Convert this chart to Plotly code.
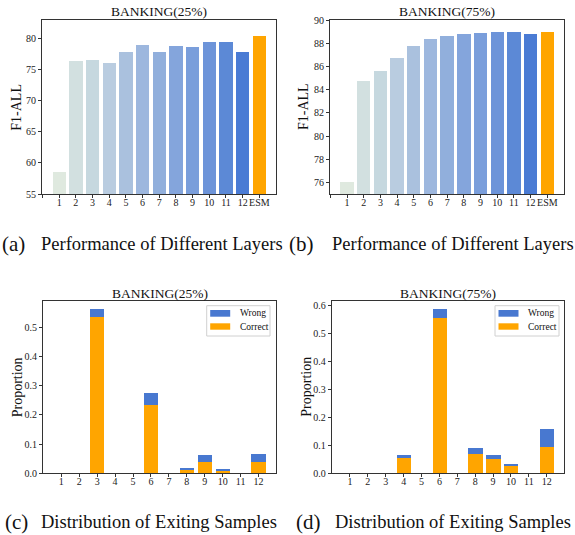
import plotly.graph_objects as go

# ---------------- data ----------------
layer_labels = ['1', '2', '3', '4', '5', '6', '7', '8', '9', '10', '11', '12', 'ESM']
f1_25 = [58.5, 76.4, 76.5, 76.1, 77.8, 79.0, 77.8, 78.8, 78.7, 79.4, 79.4, 77.8, 80.4]
f1_75 = [76.05, 84.75, 85.6, 86.7, 87.75, 88.35, 88.6, 88.78, 88.87, 88.95, 88.95, 88.78, 88.95]

exit_layers = ['1', '2', '3', '4', '5', '6', '7', '8', '9', '10', '11', '12']
correct_25 = [0, 0, 0.535, 0, 0, 0.234, 0, 0.014, 0.041, 0.010, 0, 0.041]
wrong_25 = [0, 0, 0.028, 0, 0, 0.041, 0, 0.003, 0.022, 0.004, 0, 0.025]
correct_75 = [0, 0, 0, 0.055, 0, 0.555, 0, 0.070, 0.051, 0.026, 0, 0.094]
wrong_75 = [0, 0, 0, 0.0105, 0, 0.032, 0, 0.0205, 0.0145, 0.0073, 0, 0.064]

legend_names = ['Wrong', 'Correct']

# ---------------- styles ----------------
bar_colors = ['#dfe9df', '#d2e0e0', '#c6d8df', '#b9cce0', '#aac1de', '#9db7de',
              '#91afdc', '#84a5dc', '#7a9edb', '#6d94d9', '#5c89d6', '#4a7bd4', '#ffa500']
BLUE = '#4878d0'
ORANGE = '#ffa500'
FONT = 'Liberation Serif, Times New Roman, serif'
W, H = 575, 535


def px_x(p):
    return p / W


def px_y(p):
    return 1 - p / H


x_top = list(range(1, len(layer_labels) + 1))
x_bot = list(range(1, len(exit_layers) + 1))

fig = go.Figure()

fig.add_trace(go.Bar(x=x_top, y=f1_25, marker=dict(color=bar_colors, line=dict(width=0)),
                     width=0.8, xaxis='x', yaxis='y', showlegend=False))
fig.add_trace(go.Bar(x=x_top, y=f1_75, marker=dict(color=bar_colors, line=dict(width=0)),
                     width=0.8, xaxis='x2', yaxis='y2', showlegend=False))

fig.add_trace(go.Bar(x=x_bot, y=correct_25, name='Correct', marker=dict(color=ORANGE, line=dict(width=0)),
                     width=0.8, xaxis='x3', yaxis='y3', showlegend=False))
fig.add_trace(go.Bar(x=x_bot, y=wrong_25, name='Wrong', marker=dict(color=BLUE, line=dict(width=0)),
                     width=0.8, xaxis='x3', yaxis='y3', showlegend=False))
fig.add_trace(go.Bar(x=x_bot, y=correct_75, name='Correct', marker=dict(color=ORANGE, line=dict(width=0)),
                     width=0.8, xaxis='x4', yaxis='y4', showlegend=False))
fig.add_trace(go.Bar(x=x_bot, y=wrong_75, name='Wrong', marker=dict(color=BLUE, line=dict(width=0)),
                     width=0.8, xaxis='x4', yaxis='y4', showlegend=False))

axis_common = dict(showline=True, mirror=True, linecolor='#333', linewidth=1,
                   ticks='outside', ticklen=3, tickwidth=1, tickcolor='#333',
                   showgrid=False, zeroline=False, automargin=False, tickangle=0,
                   tickfont=dict(family=FONT, size=10, color='#222'))
xaxis_extra = dict(ticklabelstandoff=-4)

top_ticks = [0] + x_top
top_text = [''] + layer_labels

fig.update_layout(
    template='none',
    width=W, height=H, margin=dict(l=0, r=0, t=0, b=0, autoexpand=False),
    paper_bgcolor='white', plot_bgcolor='white',
    barmode='stack', bargap=0, showlegend=False,
    font=dict(family=FONT, color='#222'),
    xaxis=dict(domain=[px_x(42), px_x(276)], range=[-0.03, 14.0], anchor='y',
               tickmode='array', tickvals=top_ticks, ticktext=top_text, **axis_common, **xaxis_extra),
    yaxis=dict(domain=[px_y(194), px_y(20)], range=[55, 83], anchor='x',
               tickmode='array', tickvals=[55, 60, 65, 70, 75, 80], **axis_common),
    xaxis2=dict(domain=[px_x(330), px_x(564)], range=[-0.02, 14.0], anchor='y2',
                tickmode='array', tickvals=top_ticks, ticktext=top_text, **axis_common, **xaxis_extra),
    yaxis2=dict(domain=[px_y(194), px_y(20)], range=[75, 90], anchor='x2',
                tickmode='array', tickvals=[76, 78, 80, 82, 84, 86, 88, 90], **axis_common),
    xaxis3=dict(domain=[px_x(43), px_x(276)], range=[-0.02, 12.97], anchor='y3',
                tickmode='array', tickvals=x_bot, ticktext=exit_layers, **axis_common, **xaxis_extra),
    yaxis3=dict(domain=[px_y(473.3), px_y(300.7)], range=[0, 0.591], anchor='x3',
                tickmode='array', tickvals=[0, 0.1, 0.2, 0.3, 0.4, 0.5], tickformat='.1f', **axis_common),
    xaxis4=dict(domain=[px_x(331.7), px_x(564.3)], range=[-0.02, 12.98], anchor='y4',
                tickmode='array', tickvals=x_bot, ticktext=exit_layers, **axis_common, **xaxis_extra),
    yaxis4=dict(domain=[px_y(473.3), px_y(300.7)], range=[0, 0.616], anchor='x4',
                tickmode='array', tickvals=[0, 0.1, 0.2, 0.3, 0.4, 0.5, 0.6], tickformat='.1f', **axis_common),
)

annotations = []
shapes = []
# subplot titles
for xc, yc, txt in [(159, 11.5, 'BANKING(25%)'), (447, 11.5, 'BANKING(75%)'),
                    (159.5, 293.3, 'BANKING(25%)'), (448, 293.3, 'BANKING(75%)')]:
    annotations.append(dict(x=px_x(xc), y=px_y(yc), xref='paper', yref='paper',
                            text=txt, showarrow=False, xanchor='center', yanchor='middle',
                            font=dict(family=FONT, size=13.5, color='#111')))
# y-axis titles
for xc, yc, txt in [(16.7, 107, 'F1-ALL'), (304, 107, 'F1-ALL'),
                    (17.3, 387, 'Proportion'), (305.7, 387, 'Proportion')]:
    annotations.append(dict(x=px_x(xc), y=px_y(yc), xref='paper', yref='paper',
                            text=txt, showarrow=False, textangle=-90,
                            xanchor='center', yanchor='middle',
                            font=dict(family=FONT, size=14, color='#111')))
# captions
for xl, xt, yc, lab, txt in [(13, 39, 243.5, '(a)', 'Performance of Different Layers'),
                             (301.5, 330, 243.5, '(b)', 'Performance of Different Layers'),
                             (16, 39, 522, '(c)', 'Distribution of Exiting Samples'),
                             (308.5, 333, 522, '(d)', 'Distribution of Exiting Samples')]:
    annotations.append(dict(x=px_x(xl), y=px_y(yc), xref='paper', yref='paper',
                            text=lab, showarrow=False, xanchor='center', yanchor='middle',
                            font=dict(family=FONT, size=21, color='#111')))
    annotations.append(dict(x=px_x(xt), y=px_y(yc), xref='paper', yref='paper',
                            text=txt, showarrow=False, xanchor='left', yanchor='middle',
                            font=dict(family=FONT, size=18.5, color='#111')))

# legends (matplotlib-style boxes inside panels c and d)
for bx0, bx1 in [(206.7, 270), (495, 559)]:
    by0, by1 = 305.7, 336
    shapes.append(dict(type='rect', xref='paper', yref='paper',
                       x0=px_x(bx0), x1=px_x(bx1), y0=px_y(by1), y1=px_y(by0),
                       line=dict(color='#d0d0d0', width=1), fillcolor='rgba(255,255,255,0.85)'))
    for (sy0, sy1, ty), name, col in zip([(310, 316.7, 313.3), (323.3, 329.7, 326.7)],
                                         legend_names, [BLUE, ORANGE]):
        shapes.append(dict(type='rect', xref='paper', yref='paper',
                           x0=px_x(bx0 + 3.5), x1=px_x(bx0 + 23.5), y0=px_y(sy1), y1=px_y(sy0),
                           line=dict(width=0), fillcolor=col))
        annotations.append(dict(x=px_x(bx0 + 31), y=px_y(ty), xref='paper', yref='paper',
                                text=name, showarrow=False, xanchor='left', yanchor='middle',
                                font=dict(family=FONT, size=9.5, color='#111')))

fig.update_layout(annotations=annotations, shapes=shapes)
fig.write_html('out.html', config={'displayModeBar': False},
               post_script="document.body.style.margin='0px';document.body.style.padding='0px';"
                           "document.body.style.overflow='hidden';")
